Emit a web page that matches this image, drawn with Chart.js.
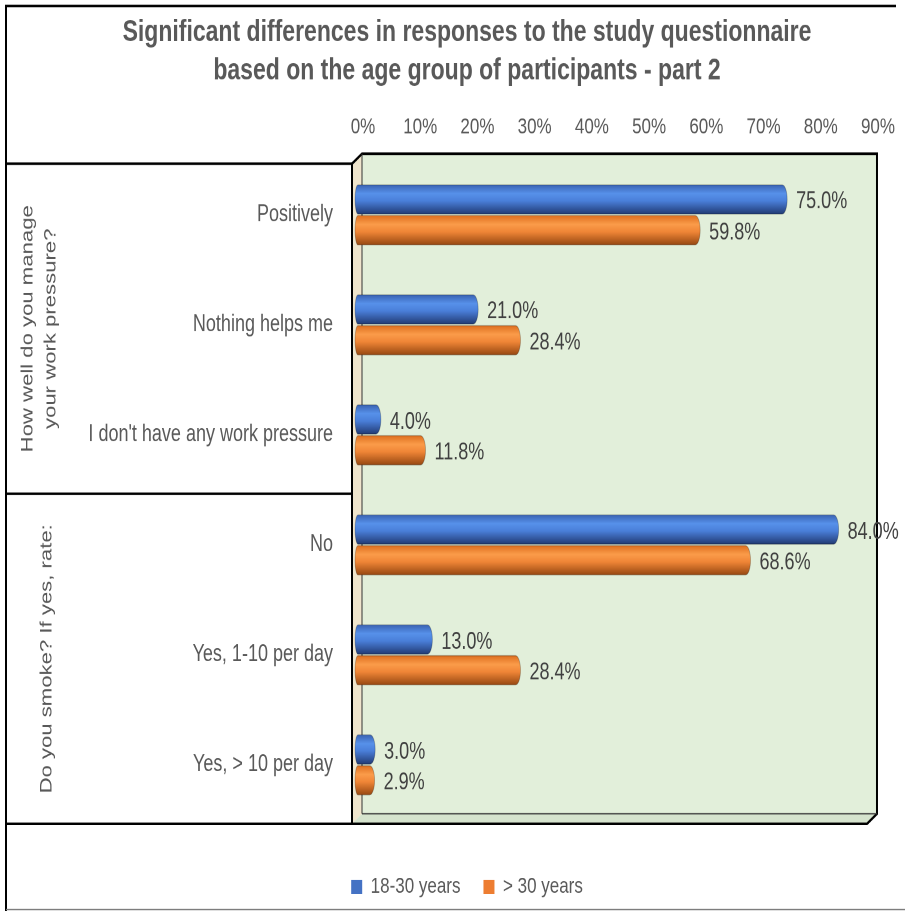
<!DOCTYPE html>
<html>
<head>
<meta charset="utf-8">
<script src="https://cdn.jsdelivr.net/npm/chart.js@4/dist/chart.umd.min.js"></script>
<style>
  html, body { margin: 0; padding: 0; background: #fff; }
  #quadro { width: 905px; height: 911px; position: relative; }
  /* the chart is laid out short and stretched to the full height */
  #wrap { position: absolute; left: 0; top: 0; width: 905px; height: 700px; transform: scaleY(1.30143); transform-origin: 0 0; }
</style>
</head>
<body>
<div id="quadro"><div id="wrap"><canvas id="grafico"></canvas></div></div>
<script>
// answers, in the order they sit on the axis
const categorias = ["Positively", "Nothing helps me", "I don't have any work pressure", "No", "Yes, 1-10 per day", "Yes, > 10 per day"];
// questions that group the answers (3 answers each)
const grupos = [["How well do you manage", "your work pressure?"], ["Do you smoke? If yes, rate:"]];
const tamanhoGrupos = [3, 3];
const series = ["18-30 years", "> 30 years"];
const valores18a30 = [75.0, 21.0, 4.0, 84.0, 13.0, 3.0];
const valoresMais30 = [59.8, 28.4, 11.8, 68.6, 28.4, 2.9];
const ticksX = [0, 10, 20, 30, 40, 50, 60, 70, 80, 90];

const FONTE = "'Liberation Sans', Arial, sans-serif";
const CINZA = "#595959";

// cylinder shading for each series
const sombras = [
    [[0, "#3a63b3"], [0.3, "#5791ea"], [0.55, "#4a7fd9"], [1, "#223b74"]],
    [[0, "#de6f1f"], [0.3, "#fb9c4a"], [0.55, "#f08637"], [1, "#974812"]]
];

function cilindro(ctx, x0, x1, yc, h, stops) {
    const topo = yc - h / 2;
    const g = ctx.createLinearGradient(0, topo, 0, topo + h);
    stops.forEach(s => g.addColorStop(s[0], s[1]));
    const rx = Math.max(1, Math.min(5, (x1 - x0) / 2));
    ctx.save();
    ctx.fillStyle = g;
    ctx.beginPath();
    ctx.ellipse(x0, yc, 3, h / 2, 0, Math.PI / 2, Math.PI * 1.5);
    ctx.lineTo(x1 - rx, topo);
    ctx.ellipse(x1 - rx, yc, rx, h / 2, 0, -Math.PI / 2, Math.PI / 2);
    ctx.closePath();
    ctx.fill();
    ctx.strokeStyle = "rgba(0,0,0,0.25)";
    ctx.lineWidth = 0.8;
    ctx.stroke();
    ctx.restore();
}

// background, frame, 3d walls and the grouped category axis
const fundo = {
    id: "fundo",
    beforeDraw(chart) {
        const ctx = chart.ctx;
        const ca = chart.chartArea;
        ctx.save();
        ctx.fillStyle = "#fff";
        ctx.fillRect(0, 0, chart.width, chart.height);

        const fl = ca.left - 6, ft = ca.top + 3, fb = ca.bottom + 3, fr = ca.right - 6;
        const dx = 10, dy = 7.7;
        // back wall
        ctx.fillStyle = "#e2efda";
        ctx.fillRect(fl + dx, ft - dy, fr - fl, fb - ft);
        // side wall
        ctx.fillStyle = "#efe5cd";
        ctx.beginPath();
        ctx.moveTo(fl, ft); ctx.lineTo(fl + dx, ft - dy); ctx.lineTo(fl + dx, fb - dy); ctx.lineTo(fl, fb);
        ctx.closePath(); ctx.fill();
        // floor
        ctx.fillStyle = "#d5e3cd";
        ctx.beginPath();
        ctx.moveTo(fl, fb); ctx.lineTo(fl + dx, fb - dy); ctx.lineTo(fr + dx, fb - dy); ctx.lineTo(fr, fb);
        ctx.closePath(); ctx.fill();

        ctx.strokeStyle = "#000";
        ctx.lineWidth = 2;
        ctx.beginPath();
        ctx.moveTo(fl, ft); ctx.lineTo(fl + dx, ft - dy); ctx.lineTo(fr + dx, ft - dy); ctx.lineTo(fr + dx, fb - dy);
        ctx.lineTo(fr, fb); ctx.lineTo(fl, fb); ctx.lineTo(fl, ft);
        ctx.stroke();
        ctx.lineWidth = 1;
        ctx.strokeStyle = "#333";
        ctx.beginPath();
        ctx.moveTo(fl + dx, fb - dy); ctx.lineTo(fr + dx, fb - dy);
        ctx.moveTo(fl + dx, ft - dy); ctx.lineTo(fl + dx, fb - dy);
        ctx.stroke();

        // grouped axis lines
        const y = chart.scales.y;
        const meio = (y.getPixelForValue(1) - y.getPixelForValue(0)) / 2;
        ctx.strokeStyle = "#000";
        ctx.lineWidth = 2;
        ctx.beginPath();
        let inicio = 0;
        const limites = [y.getPixelForValue(0) - meio + 3];
        tamanhoGrupos.forEach(n => {
            inicio += n;
            limites.push(y.getPixelForValue(inicio - 1) + meio + 3);
        });
        limites.forEach(l => { ctx.moveTo(7, l); ctx.lineTo(fl, l); });
        ctx.stroke();

        // frame
        ctx.beginPath();
        ctx.moveTo(6, 700); ctx.lineTo(6, 4.6); ctx.lineTo(896, 4.6);
        ctx.stroke();
        ctx.strokeStyle = "#777";
        ctx.lineWidth = 1;
        ctx.beginPath();
        ctx.moveTo(6, 698.9); ctx.lineTo(905, 698.9);
        ctx.stroke();
        ctx.restore();
    },
    afterDraw(chart) {
        // rotated question labels
        const ctx = chart.ctx;
        const y = chart.scales.y;
        const meio = (y.getPixelForValue(1) - y.getPixelForValue(0)) / 2;
        ctx.save();
        ctx.fillStyle = CINZA;
        ctx.font = "17px " + FONTE;
        ctx.textAlign = "center";
        ctx.textBaseline = "middle";
        let inicio = 0;
        grupos.forEach((linhas, gi) => {
            const a = y.getPixelForValue(inicio) - meio + 3;
            inicio += tamanhoGrupos[gi];
            const b = y.getPixelForValue(inicio - 1) + meio + 3;
            const cy = (a + b) / 2;
            const xs = linhas.length === 2 ? [28, 51] : [47];
            linhas.forEach((t, li) => {
                ctx.save();
                ctx.translate(xs[li], cy);
                ctx.rotate(-Math.PI / 2);
                ctx.fillText(t, 0, 0);
                ctx.restore();
            });
        });
        ctx.restore();
    }
};

// cylinder bars + value labels
const barras3d = {
    id: "barras3d",
    beforeDatasetsDraw(chart) {
        const ctx = chart.ctx;
        chart.data.datasets.forEach((ds, i) => {
            const meta = chart.getDatasetMeta(i);
            meta.data.forEach(el => {
                cilindro(ctx, el.base, el.x, el.y, el.height, sombras[i]);
            });
        });
        ctx.save();
        ctx.fillStyle = "#404040";
        ctx.font = "18px " + FONTE;
        ctx.textBaseline = "middle";
        chart.data.datasets.forEach((ds, i) => {
            chart.getDatasetMeta(i).data.forEach((el, j) => {
                ctx.fillText(ds.data[j].toFixed(1) + "%", el.x + 9, el.y + 2);
            });
        });
        ctx.restore();
        return false;
    }
};

new Chart(document.getElementById("grafico"), {
    type: "bar",
    data: {
        labels: categorias,
        datasets: [
            { label: series[0], data: valores18a30, backgroundColor: "#4472c4" },
            { label: series[1], data: valoresMais30, backgroundColor: "#ed7d31" }
        ]
    },
    options: {
        indexAxis: "y",
        responsive: true,
        maintainAspectRatio: false,
        animation: false,
        devicePixelRatio: 2,
        categoryPercentage: 0.56,
        barPercentage: 0.95,
        layout: { padding: { left: 60, right: 31, top: 0, bottom: 0 } },
        scales: {
            x: {
                position: "top",
                min: 0,
                max: 90,
                afterBuildTicks: s => { s.ticks = ticksX.map(v => ({ value: v })); },
                afterFit: s => { s.height = 53; },
                grid: { display: false, drawTicks: false },
                border: { display: false },
                ticks: {
                    padding: 15,
                    labelOffset: 5,
                    color: CINZA,
                    font: { family: FONTE, size: 17 },
                    callback: v => v + "%"
                }
            },
            y: {
                afterFit: s => { s.width = 298; },
                grid: { display: false, drawTicks: false },
                border: { display: false },
                ticks: {
                    padding: 25,
                    color: CINZA,
                    font: { family: FONTE, size: 18 }
                }
            }
        },
        plugins: {
            title: {
                display: true,
                text: ["Significant differences in responses to the study questionnaire", "based on the age group of participants - part 2"],
                color: CINZA,
                font: { family: FONTE, size: 23, weight: "bold", lineHeight: 1.3 },
                padding: { top: 10, bottom: 0 }
            },
            legend: {
                position: "bottom",
                title: { display: true, text: "", font: { size: 15, lineHeight: 1.2 }, padding: { top: 0, bottom: 2 } },
                labels: {
                    boxWidth: 11,
                    boxHeight: 11,
                    padding: 23,
                    color: CINZA,
                    font: { family: FONTE, size: 17 }
                }
            },
            tooltip: { enabled: false }
        }
    },
    plugins: [fundo, barras3d]
});
</script>
</body>
</html>
